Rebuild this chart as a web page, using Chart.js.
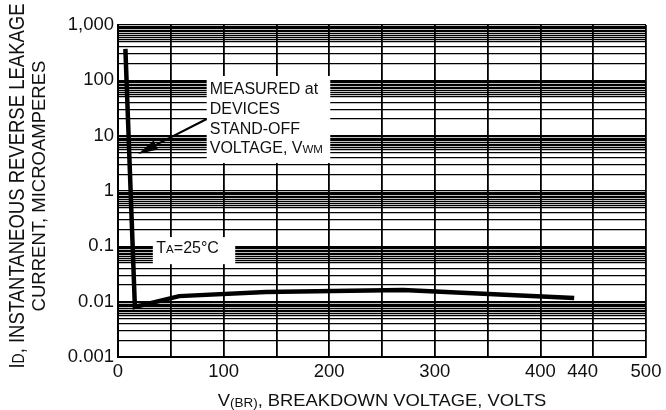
<!DOCTYPE html>
<html>
<head>
<meta charset="utf-8">
<script src="https://cdn.jsdelivr.net/npm/chart.js@4.4.0/dist/chart.umd.min.js"></script>
<style>
  html, body { margin: 0; padding: 0; background: #fff; }
  canvas { display: block; }
</style>
</head>
<body>
<canvas id="chart" width="666" height="410"></canvas>
<script>
// curve: breakdown voltage (V) vs leakage current (uA)
const voltage = [7, 16, 58, 140, 220, 270, 432];
const leakage = [370, 0.008, 0.0126, 0.015, 0.0157, 0.0163, 0.0117];

// x axis: grid every 50, labels at these values
const xGrid = [0, 50, 100, 150, 200, 250, 300, 350, 400, 440, 450, 500];
const xLabeled = [0, 100, 200, 300, 400, 440, 500];

// y axis: decades and their labels, minor lines inside each decade
const decades = [0.001, 0.01, 0.1, 1, 10, 100, 1000];
const yTickLabels = ['0.001', '0.01', '0.1', '1', '10', '100', '1,000'];
const minorSteps = [1, 2, 3, 4, 5, 5.5, 6, 6.5, 7, 7.5, 8, 8.5, 9, 9.5];

// annotations, in data units
const noteBox = { x0: 84, x1: 201, y0: 120, y1: 3.2 };
const noteArrow = { from: [84, 20], to: [19, 4.65] };
const tempBox = { x0: 33, x1: 111, y0: 0.147, y1: 0.0476 };

const FONT = '"Liberation Sans", Arial, Helvetica, sans-serif';
const INK = '#111';

const yGrid = [];
decades.slice(0, -1).forEach(d => minorSteps.forEach(m => yGrid.push(d * m)));
yGrid.push(decades[decades.length - 1]);

// draws runs of text with different sizes; parts = [[text, size, dy]]
const drawRich = (c, parts, x, y, opts = {}) => {
  const { angle = 0, sx = 1, sy = 1, align = 'left' } = opts;
  let w = 0;
  parts.forEach(([t, s]) => {
    c.font = s + 'px ' + FONT;
    w += c.measureText(t).width;
  });
  c.save();
  c.translate(x, y);
  c.rotate(angle);
  c.scale(sx, sy);
  let cx = align === 'center' ? -w / 2 : 0;
  c.textBaseline = 'alphabetic';
  c.textAlign = 'left';
  c.fillStyle = INK;
  parts.forEach(([t, s, dy = 0]) => {
    c.font = s + 'px ' + FONT;
    c.fillText(t, cx, dy);
    cx += c.measureText(t).width;
  });
  c.restore();
};

const notes = {
  id: 'notes',
  afterDatasetsDraw(chart) {
    const c = chart.ctx;
    const px = v => chart.scales.x.getPixelForValue(v);
    const py = v => chart.scales.y.getPixelForValue(v);
    c.save();
    c.fillStyle = '#fff';
    [noteBox, tempBox].forEach(b => {
      c.fillRect(px(b.x0), py(b.y0), px(b.x1) - px(b.x0), py(b.y1) - py(b.y0));
    });

    // arrow
    const x1 = px(noteArrow.from[0]), y1 = py(noteArrow.from[1]);
    const x2 = px(noteArrow.to[0]), y2 = py(noteArrow.to[1]);
    const a = Math.atan2(y2 - y1, x2 - x1);
    const headLen = 20, headW = 5;
    const bx = x2 - headLen * Math.cos(a), by = y2 - headLen * Math.sin(a);
    c.strokeStyle = '#000';
    c.lineWidth = 2;
    c.beginPath();
    c.moveTo(x1, y1);
    c.lineTo(bx, by);
    c.stroke();
    c.fillStyle = '#000';
    c.beginPath();
    c.moveTo(x2, y2);
    c.lineTo(bx + headW * Math.sin(a), by - headW * Math.cos(a));
    c.lineTo(bx - headW * Math.sin(a), by + headW * Math.cos(a));
    c.closePath();
    c.fill();
    c.restore();

    const lines = [
      [['MEASURED at', 16]],
      [['DEVICES', 16]],
      [['STAND-OFF', 16]],
      [['VOLTAGE, V', 16], ['WM', 11.5]]
    ];
    lines.forEach((l, i) => drawRich(c, l, px(noteBox.x0) + 3, py(noteBox.y0) + 18.3 + i * 19.7));
    drawRich(c, [['T', 16], ['A', 11.5], ['=25°C', 16]], px(tempBox.x0) + 3.5, py(tempBox.y0) + 16.3);
  },
  afterDraw(chart) {
    const c = chart.ctx;
    const a = chart.chartArea;
    const mid = (a.left + a.right) / 2;
    drawRich(c, [['V', 17], ['(BR)', 12.5, 1], [', BREAKDOWN VOLTAGE, VOLTS', 17]], mid, 406,
      { align: 'center', sx: 1.08 });
    drawRich(c, [['I', 18.5], ['D', 14], [', INSTANTANEOUS REVERSE LEAKAGE', 18.5]], 23.5, 186,
      { align: 'center', angle: -Math.PI / 2, sy: 1.15 });
    drawRich(c, [['CURRENT, MICROAMPERES', 18.5]], 45, 186,
      { align: 'center', angle: -Math.PI / 2 });
  }
};

new Chart(document.getElementById('chart'), {
  type: 'scatter',
  data: {
    datasets: [{
      data: voltage.map((v, i) => ({ x: v, y: leakage[i] })),
      showLine: true,
      borderColor: '#000',
      borderWidth: 4.5,
      pointRadius: 0,
      tension: 0
    }]
  },
  options: {
    responsive: false,
    animation: false,
    devicePixelRatio: 1,
    layout: { padding: { top: 25, right: 20, left: 0, bottom: 0 } },
    plugins: { legend: { display: false }, tooltip: { enabled: false } },
    scales: {
      x: {
        type: 'linear',
        min: 0,
        max: 500,
        afterFit: s => { s.height = 53; },
        afterBuildTicks: s => { s.ticks = xGrid.map(v => ({ value: v })); },
        grid: {
          drawTicks: false,
          lineWidth: 1.8,
          color: ctx => (ctx.tick && ctx.tick.value === 440 ? 'rgba(0,0,0,0)' : '#000')
        },
        border: { color: '#000', width: 2 },
        ticks: {
          autoSkip: false,
          maxRotation: 0,
          padding: 4,
          color: INK,
          font: { family: FONT, size: 18.5 },
          callback: v => (xLabeled.includes(v) ? String(v) : '')
        }
      },
      y: {
        type: 'logarithmic',
        min: 0.001,
        max: 1000,
        afterFit: s => { s.width = 118; },
        afterBuildTicks: s => { s.ticks = yGrid.map(v => ({ value: v })); },
        grid: { drawTicks: false, lineWidth: 1.3, color: '#000' },
        border: { color: '#000', width: 2 },
        ticks: {
          autoSkip: false,
          padding: 4,
          color: INK,
          font: { family: FONT, size: 18.5 },
          callback: v => {
            const i = decades.findIndex(d => Math.abs(v / d - 1) < 1e-6);
            return i >= 0 ? yTickLabels[i] : '';
          }
        }
      }
    }
  },
  plugins: [notes]
});
</script>
</body>
</html>
